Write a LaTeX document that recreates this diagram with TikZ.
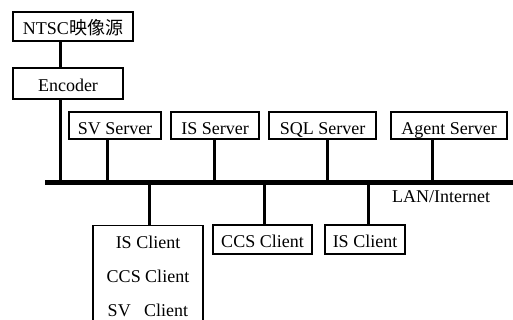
\documentclass[tikz,border=0pt]{standalone}
\usepackage{fontspec}
\setmainfont{Liberation Serif}
\newfontfamily\cjk{Noto Sans CJK SC}

\begin{document}
\begin{tikzpicture}[
    x=1pt, y=1pt,
    box/.style={draw, line width=1.1pt, inner sep=0pt, minimum height=29pt, text height=19pt, text depth=2pt},
    server/.style={box, minimum height=27pt, text height=20pt, text depth=1pt},
    stack/.style={draw, line width=1.1pt, align=center, inner xsep=0pt, inner ysep=10.7pt, font=\fontsize{18}{34}\selectfont},
    tap/.style={line width=3pt},
    bus/.style={line width=5pt},
    font=\fontsize{18}{21}\selectfont
]
    \useasboundingbox (0,0) rectangle (513,320);

    % 信号源与编码器
    \node[box, minimum width=120pt] (ntsc) at (73,293.5) {NTSC{\cjk 映像源}};
    \node[box, minimum width=110pt, minimum height=31pt] (enc) at (68,236.5) {Encoder};

    % 服务器 (总线上方)
    \node[server, minimum width=92pt] (sv) at (115,194.5) {SV Server};
    \node[server, minimum width=88pt] (is) at (215,194.5) {IS Server};
    \node[server, minimum width=107pt] (sql) at (322.5,194.5) {SQL Server};
    \node[server, minimum width=116pt] (agent) at (449,194.5) {Agent Server};

    % 客户端 (总线下方)
    \node[stack, minimum width=110pt, anchor=north] (multi) at (148,95) {IS Client\\CCS Client\\SV\ \ \ Client};
    \node[box, minimum width=99pt] (ccs) at (262.5,80.5) {CCS Client};
    \node[box, minimum width=80pt] (isc) at (365,80.5) {IS Client};

    % 总线及其标注
    \coordinate (busL) at (45,137.5);
    \coordinate (busR) at (513,137.5);
    \node[anchor=west, inner sep=0pt] (lan) at (392,123) {LAN/Internet};

    % 总线上的接点
    \coordinate (k0) at (60,137.5);
    \coordinate (k1) at (107,137.5);
    \coordinate (k2) at (214,137.5);
    \coordinate (k3) at (327,137.5);
    \coordinate (k4) at (432,137.5);
    \coordinate (c1) at (149,137.5);
    \coordinate (c2) at (264,137.5);
    \coordinate (c3) at (368,137.5);

    % 1. 源 -> 编码器 -> 总线
    \draw[tap] (ntsc.south -| k0) -- (enc.north -| k0);
    \draw[tap] (enc.south -| k0) -- (k0);

    % 2. 服务器的连线
    \draw[tap] (k1) -- (k1 |- sv.south);
    \draw[tap] (k2) -- (k2 |- is.south);
    \draw[tap] (k3) -- (k3 |- sql.south);
    \draw[tap] (k4) -- (k4 |- agent.south);

    % 3. 客户端的连线
    \draw[tap] (c1) -- (c1 |- multi.north);
    \draw[tap] (c2) -- (c2 |- ccs.north);
    \draw[tap] (c3) -- (c3 |- isc.north);

    \draw[bus] (busL) -- (busR);

\end{tikzpicture}
\end{document}
